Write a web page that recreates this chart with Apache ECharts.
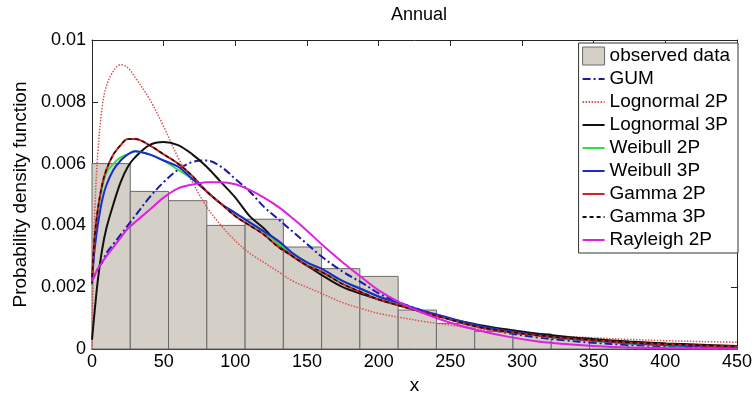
<!DOCTYPE html>
<html>
<head>
<meta charset="utf-8">
<script src="https://cdn.jsdelivr.net/npm/echarts@6/dist/echarts.min.js"></script>
<style>
html,body{margin:0;padding:0;background:#fff;}
#chart{width:756px;height:400px;}
</style>
</head>
<body>
<div id="chart"></div>
<script>
// ---- data ----
const titleText = 'Annual';
const xTicks = [0, 50, 100, 150, 200, 250, 300, 350, 400, 450];
const yTicks = [0, 0.002, 0.004, 0.006, 0.008, 0.01];

const binEdges = [0, 26.7, 53.4, 80.1, 106.8, 133.5, 160.2, 186.9, 213.6, 240.3, 267.0, 293.7, 320.4, 347.1, 373.8, 400.5, 427.2, 453.9];
const binHeights = [0.0060, 0.0051, 0.0048, 0.0040, 0.0042, 0.0033, 0.0026, 0.00235, 0.00126, 0.00083, 0.00057, 0.00049, 0.00035, 0.00025, 0.0002, 0.00012, 0.0001];

const xs = [0, 1, 2, 4, 7, 10, 15, 20, 25, 30, 40, 50, 60, 70, 80, 90, 100, 110, 120, 130, 140, 150, 160, 175, 190, 200, 215, 230, 250, 270, 290, 310, 330, 350, 375, 400, 425, 450];

const gum = [0.0022, 0.0023, 0.0024, 0.0026, 0.0028, 0.0031, 0.0034, 0.0037, 0.0040, 0.0043, 0.0049, 0.0054, 0.0058, 0.00605, 0.0061, 0.0059, 0.0055, 0.0051, 0.0046, 0.0042, 0.0038, 0.0034, 0.0030, 0.0025, 0.0021, 0.0018, 0.0015, 0.00125, 0.00095, 0.0007, 0.00052, 0.00038, 0.00028, 0.0002, 0.00013, 0.00009, 0.00006, 0.00004];
const logn2 = [0, 0.0028, 0.0045, 0.0063, 0.0078, 0.0085, 0.0090, 0.0092, 0.0091, 0.0088, 0.0081, 0.0072, 0.0062, 0.0054, 0.0046, 0.0040, 0.0035, 0.0031, 0.0028, 0.0025, 0.0022, 0.0020, 0.0018, 0.0015, 0.00128, 0.00115, 0.00102, 0.0009, 0.00077, 0.00064, 0.00054, 0.00047, 0.00041, 0.00036, 0.00031, 0.00027, 0.00024, 0.00022];
const logn3 = [0.0003, 0.0008, 0.0013, 0.0022, 0.0032, 0.0039, 0.0047, 0.0054, 0.0059, 0.0062, 0.0066, 0.0067, 0.0066, 0.0063, 0.0059, 0.0054, 0.0049, 0.0043, 0.0039, 0.0034, 0.0030, 0.0027, 0.0024, 0.0020, 0.00175, 0.0016, 0.0014, 0.0012, 0.00098, 0.00078, 0.00063, 0.0005, 0.0004, 0.00032, 0.00024, 0.00018, 0.00014, 0.0001];
const weib2 = [0.0022, 0.0030, 0.0036, 0.0044, 0.0052, 0.0057, 0.0060, 0.0062, 0.0063, 0.0064, 0.0063, 0.0061, 0.0058, 0.0055, 0.0051, 0.0047, 0.0044, 0.0041, 0.0038, 0.0034, 0.0031, 0.0028, 0.0025, 0.0022, 0.0019, 0.0017, 0.00146, 0.00123, 0.00098, 0.00074, 0.00057, 0.00044, 0.00034, 0.00026, 0.00018, 0.00012, 0.00008, 0.00006];
const weib3 = [0.0022, 0.0028, 0.0033, 0.0040, 0.0048, 0.0053, 0.0058, 0.0061, 0.0063, 0.0064, 0.0063, 0.0061, 0.0059, 0.0055, 0.0051, 0.0047, 0.0044, 0.0041, 0.0038, 0.0035, 0.0031, 0.0028, 0.0026, 0.0022, 0.0019, 0.0017, 0.00148, 0.00125, 0.001, 0.00075, 0.00058, 0.00045, 0.00035, 0.00027, 0.00019, 0.00013, 0.00009, 0.00006];
const gamma2 = [0.0022, 0.0031, 0.0037, 0.0045, 0.0053, 0.0058, 0.0063, 0.0066, 0.0068, 0.0068, 0.0066, 0.0063, 0.0060, 0.0056, 0.0051, 0.0047, 0.0043, 0.0040, 0.0037, 0.0033, 0.0030, 0.0027, 0.0025, 0.0021, 0.0018, 0.0016, 0.0014, 0.0012, 0.00095, 0.0007, 0.00055, 0.00044, 0.00035, 0.00028, 0.0002, 0.00015, 0.00011, 0.00008];
const gamma3 = [0.0021, 0.0031, 0.0037, 0.0045, 0.0053, 0.0058, 0.0063, 0.0066, 0.0068, 0.0068, 0.0066, 0.0063, 0.0060, 0.0056, 0.0051, 0.0047, 0.0043, 0.0040, 0.0037, 0.0033, 0.0030, 0.0027, 0.0025, 0.0021, 0.0018, 0.0016, 0.0014, 0.0012, 0.00095, 0.00071, 0.00056, 0.00045, 0.00036, 0.00029, 0.00021, 0.00016, 0.00012, 0.00009];
const rayl2 = [0.0022, 0.0023, 0.0024, 0.0026, 0.0028, 0.0030, 0.0033, 0.0036, 0.0039, 0.0041, 0.0045, 0.0049, 0.0052, 0.00532, 0.0054, 0.0054, 0.00533, 0.00515, 0.0049, 0.0046, 0.00423, 0.00383, 0.0034, 0.0028, 0.00225, 0.0019, 0.0015, 0.00118, 0.00085, 0.0006, 0.0004, 0.00025, 0.00016, 0.0001, 0.00005, 0.00003, 0.00002, 0.00001];

const names = ['observed data', 'GUM', 'Lognormal 2P', 'Lognormal 3P', 'Weibull 2P', 'Weibull 3P', 'Gamma 2P', 'Gamma 3P', 'Rayleigh 2P'];

// ---- build ----
const FONT = '"Liberation Sans", Arial, sans-serif';
const pair = arr => xs.map((x, i) => [x, arr[i]]);
const bins = binHeights.map((h, i) => [binEdges[i], binEdges[i + 1], h]);

function lineSeries(name, data, color, width, type) {
  return {
    name, type: 'line', data: pair(data), smooth: 0.35, symbol: 'none',
    lineStyle: { color, width, type: type || 'solid' },
    itemStyle: { color },
    z: 3, animation: false
  };
}

const chart = echarts.init(document.getElementById('chart'), null, { renderer: 'canvas' });
const axisCommon = {
  type: 'value',
  axisLine: { show: true, onZero: false, lineStyle: { color: '#262626', width: 1 } },
  axisTick: { show: true, inside: true, length: 6, lineStyle: { color: '#262626' } },
  splitLine: { show: false }
};

const hiddenSym = { color: 'rgba(0,0,0,0)', borderWidth: 0, opacity: 0 };

chart.setOption({
  animation: false,
  backgroundColor: '#fff',
  title: {
    text: titleText, left: 414, top: 1, textAlign: 'center',
    textStyle: { fontFamily: FONT, fontSize: 18, fontWeight: 'normal', color: '#000' }
  },
  grid: { left: 92, right: 19, top: 40, bottom: 42 },
  legend: {
    data: names.map((n, i) => i === 0
      ? { name: n, icon: 'rect', itemStyle: { color: '#d4d0c8', borderColor: '#6a6a6a', borderWidth: 1 } }
      : { name: n, itemStyle: hiddenSym }),
    orient: 'vertical', right: 18, top: 43,
    itemWidth: 22, itemHeight: 18, itemGap: 3,
    padding: [3, 8, 3, 3],
    backgroundColor: '#fff', borderColor: '#333', borderWidth: 1,
    textStyle: { fontFamily: FONT, fontSize: 19, color: '#000', lineHeight: 20 }
  },
  xAxis: [
    Object.assign({}, axisCommon, {
      min: xTicks[0], max: xTicks[xTicks.length - 1], interval: 50, position: 'bottom',
      name: 'x', nameLocation: 'middle', nameGap: 27,
      nameTextStyle: { fontFamily: FONT, fontSize: 19, color: '#000' },
      axisLabel: { fontFamily: FONT, fontSize: 18, color: '#000', margin: 4 }
    }),
    Object.assign({}, axisCommon, {
      min: xTicks[0], max: xTicks[xTicks.length - 1], interval: 50, position: 'top',
      axisLabel: { show: false }
    })
  ],
  yAxis: [
    Object.assign({}, axisCommon, {
      min: yTicks[0], max: yTicks[yTicks.length - 1], interval: 0.002, position: 'left',
      name: 'Probability density function', nameLocation: 'middle', nameGap: 62,
      nameTextStyle: { fontFamily: FONT, fontSize: 19, color: '#000' },
      axisLabel: { fontFamily: FONT, fontSize: 18, color: '#000', margin: 6 }
    }),
    Object.assign({}, axisCommon, {
      min: yTicks[0], max: yTicks[yTicks.length - 1], interval: 0.002, position: 'right',
      axisLabel: { show: false }
    })
  ],
  series: [
    {
      name: names[0], type: 'custom', data: bins, z: 1,
      itemStyle: { color: '#d4d0c8', borderColor: '#6a6a6a', borderWidth: 1 },
      encode: { x: [0, 1], y: 2 },
      renderItem: function (params, api) {
        const p0 = api.coord([api.value(0), api.value(2)]);
        const p1 = api.coord([api.value(1), 0]);
        const rect = echarts.graphic.clipRectByRect(
          { x: p0[0], y: p0[1], width: p1[0] - p0[0], height: p1[1] - p0[1] },
          { x: params.coordSys.x, y: params.coordSys.y, width: params.coordSys.width, height: params.coordSys.height }
        );
        if (!rect) return;
        return { type: 'rect', shape: rect, style: { fill: '#d4d0c8', stroke: '#6a6a6a', lineWidth: 1 } };
      }
    },
    lineSeries(names[1], gum, '#1a1aa8', 2, [8, 3, 2, 3]),
    lineSeries(names[2], logn2, '#d9534f', 1.5, [1.5, 1.5]),
    lineSeries(names[3], logn3, '#111111', 2),
    lineSeries(names[4], weib2, '#33dd44', 2),
    lineSeries(names[5], weib3, '#1a2ad0', 2),
    lineSeries(names[6], gamma2, '#d42020', 2),
    lineSeries(names[7], gamma3, '#111111', 1.5, [4, 3]),
    lineSeries(names[8], rayl2, '#e020e0', 2)
  ]
});
</script>
</body>
</html>
